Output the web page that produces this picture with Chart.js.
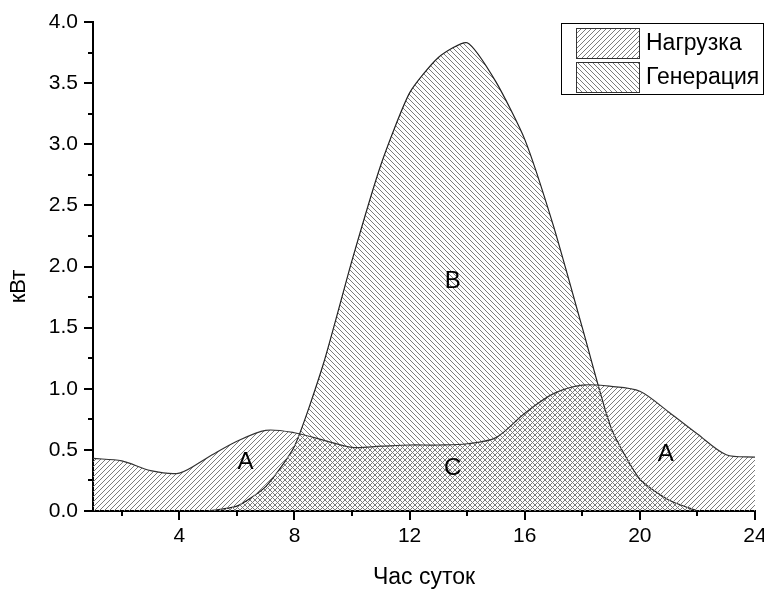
<!DOCTYPE html>
<html>
<head>
<meta charset="utf-8">
<script src="https://cdn.jsdelivr.net/npm/chart.js@4.4.1/dist/chart.umd.min.js"></script>
<style>
  html, body { margin: 0; padding: 0; background: #fff; }
  #wrap { width: 764px; height: 591px; }
</style>
</head>
<body>
<div id="wrap"><canvas id="energyChart"></canvas></div>
<script>
const hours = [1, 2, 3, 4, 5, 6, 7, 8, 9, 10, 11, 12, 13, 14, 15, 16, 17, 18, 19, 20, 21, 22, 23, 24];
const load = [0.43, 0.41, 0.33, 0.31, 0.44, 0.57, 0.66, 0.64, 0.58, 0.52, 0.53, 0.54,
              0.54, 0.55, 0.60, 0.80, 0.96, 1.03, 1.02, 0.98, 0.81, 0.63, 0.46, 0.44];
const generation = [null, null, null, null, 0, 0.04, 0.2, 0.53, 1.2, 2.05, 2.83, 3.42,
                    3.71, 3.83, 3.51, 3.04, 2.33, 1.5, 0.68, 0.26, 0.09, 0, null, null];

const xMajorTicks = [4, 8, 12, 16, 20, 24];
const xMinorTicks = [2, 6, 10, 14, 18, 22];
const yMinorTicks = [0.25, 0.75, 1.25, 1.75, 2.25, 2.75, 3.25, 3.75];

// zone letters, in data coordinates
const zoneLabels = [
  { text: 'A', x: 6.3, y: 0.40 },
  { text: 'A', x: 20.9, y: 0.46 },
  { text: 'B', x: 13.5, y: 1.88 },
  { text: 'C', x: 13.5, y: 0.35 }
];

const FONT = "'Liberation Sans', Arial, sans-serif";
Chart.defaults.font.family = FONT;
Chart.defaults.color = '#000';

const ctx = document.getElementById('energyChart').getContext('2d');

// 45deg hatch tile; '/' for load, '\' for generation
function hatch(dir) {
  const s = 5;
  const c = document.createElement('canvas');
  c.width = s; c.height = s;
  const g = c.getContext('2d');
  g.strokeStyle = '#7c7c7c';
  g.lineWidth = 1;
  g.beginPath();
  if (dir === '/') {
    g.moveTo(-1, s + 1); g.lineTo(s + 1, -1);
    g.moveTo(-1, 1); g.lineTo(1, -1);
    g.moveTo(s - 1, s + 1); g.lineTo(s + 1, s - 1);
  } else {
    g.moveTo(-1, -1); g.lineTo(s + 1, s + 1);
    g.moveTo(s - 1, -1); g.lineTo(s + 1, 1);
    g.moveTo(-1, s - 1); g.lineTo(1, s + 1);
  }
  g.stroke();
  return ctx.createPattern(c, 'repeat');
}

const loadFill = hatch('/');
const genFill = hatch('\\');

const minorTicks = {
  id: 'minorTicks',
  afterDraw(chart) {
    const { ctx, chartArea, scales } = chart;
    ctx.save();
    ctx.strokeStyle = '#000';
    ctx.lineWidth = 2;
    ctx.beginPath();
    xMinorTicks.forEach(v => {
      const px = Math.round(scales.x.getPixelForValue(v));
      ctx.moveTo(px, chartArea.bottom);
      ctx.lineTo(px, chartArea.bottom + 5);
    });
    yMinorTicks.forEach(v => {
      const py = Math.round(scales.y.getPixelForValue(v));
      ctx.moveTo(chartArea.left, py);
      ctx.lineTo(chartArea.left - 5, py);
    });
    ctx.stroke();
    ctx.restore();
  }
};

const zoneText = {
  id: 'zoneText',
  afterDatasetsDraw(chart) {
    const { ctx, scales, chartArea } = chart;
    ctx.save();
    ctx.font = `24px ${FONT}`;
    ctx.fillStyle = '#000';
    ctx.textAlign = 'center';
    ctx.textBaseline = 'middle';
    zoneLabels.forEach(l => {
      ctx.fillText(l.text, scales.x.getPixelForValue(l.x), scales.y.getPixelForValue(l.y));
    });
    // y axis title, sitting a little below the middle of the axis
    ctx.font = `22px ${FONT}`;
    ctx.translate(19, (chartArea.top + chartArea.bottom) / 2 + 20);
    ctx.rotate(-Math.PI / 2);
    ctx.fillText('кВт', 0, 0);
    ctx.restore();
  }
};

// boxed legend in the upper right corner
const boxLegend = {
  id: 'boxLegend',
  afterDraw(chart) {
    const { ctx } = chart;
    const left = 561, top = 23, w = 203, h = 72;
    ctx.save();
    ctx.fillStyle = '#fff';
    ctx.fillRect(left, top, w, h);
    ctx.strokeStyle = '#000';
    ctx.lineWidth = 1;
    ctx.strokeRect(left + 0.5, top + 0.5, w - 1, h - 1);
    chart.data.datasets.forEach((ds, i) => {
      const y = 28 + i * 34;
      ctx.fillStyle = ds.backgroundColor;
      ctx.fillRect(576, y, 63, 30);
      ctx.strokeStyle = '#333';
      ctx.strokeRect(576.5, y + 0.5, 63, 30);
      ctx.fillStyle = '#000';
      ctx.font = `23px ${FONT}`;
      ctx.textAlign = 'left';
      ctx.textBaseline = 'middle';
      ctx.fillText(ds.label, 646, y + 16);
    });
    ctx.restore();
  }
};

new Chart(ctx, {
  type: 'line',
  data: {
    datasets: [
      {
        label: 'Нагрузка',
        data: hours.map((h, i) => ({ x: h, y: load[i] })),
        fill: 'origin',
        backgroundColor: loadFill,
        borderColor: '#333',
        borderWidth: 1.2,
        pointRadius: 0,
        tension: 0.3
      },
      {
        label: 'Генерация',
        data: hours.map((h, i) => ({ x: h, y: generation[i] })),
        fill: 'origin',
        backgroundColor: genFill,
        borderColor: '#222',
        borderWidth: 1.2,
        pointRadius: 0,
        tension: 0.2,
        spanGaps: false
      }
    ]
  },
  options: {
    responsive: true,
    maintainAspectRatio: false,
    animation: false,
    devicePixelRatio: 1,
    layout: { padding: { top: 22, right: 9, left: 0, bottom: 0 } },
    scales: {
      x: {
        type: 'linear',
        min: 1,
        max: 24,
        z: 1,
        afterFit: s => { s.height = 80; s.paddingLeft = 0; s.paddingRight = 0; },
        afterBuildTicks: s => { s.ticks = xMajorTicks.map(v => ({ value: v })); },
        ticks: { font: { size: 21 }, padding: 4, maxRotation: 0 },
        grid: { drawOnChartArea: false, tickLength: 9, color: '#000', lineWidth: 2 },
        border: { color: '#000', width: 2 },
        title: { display: true, text: 'Час суток', font: { size: 23 }, padding: { top: 0, bottom: 0 } }
      },
      y: {
        min: 0,
        max: 4,
        z: 1,
        afterFit: s => { s.width = 93; s.paddingTop = 0; s.paddingBottom = 0; },
        ticks: { stepSize: 0.5, font: { size: 21 }, padding: 6, callback: v => v.toFixed(1) },
        grid: { drawOnChartArea: false, tickLength: 9, color: '#000', lineWidth: 2 },
        border: { color: '#000', width: 2 }
      }
    },
    plugins: {
      legend: { display: false },
      tooltip: { enabled: false }
    }
  },
  plugins: [minorTicks, zoneText, boxLegend]
});
</script>
</body>
</html>
